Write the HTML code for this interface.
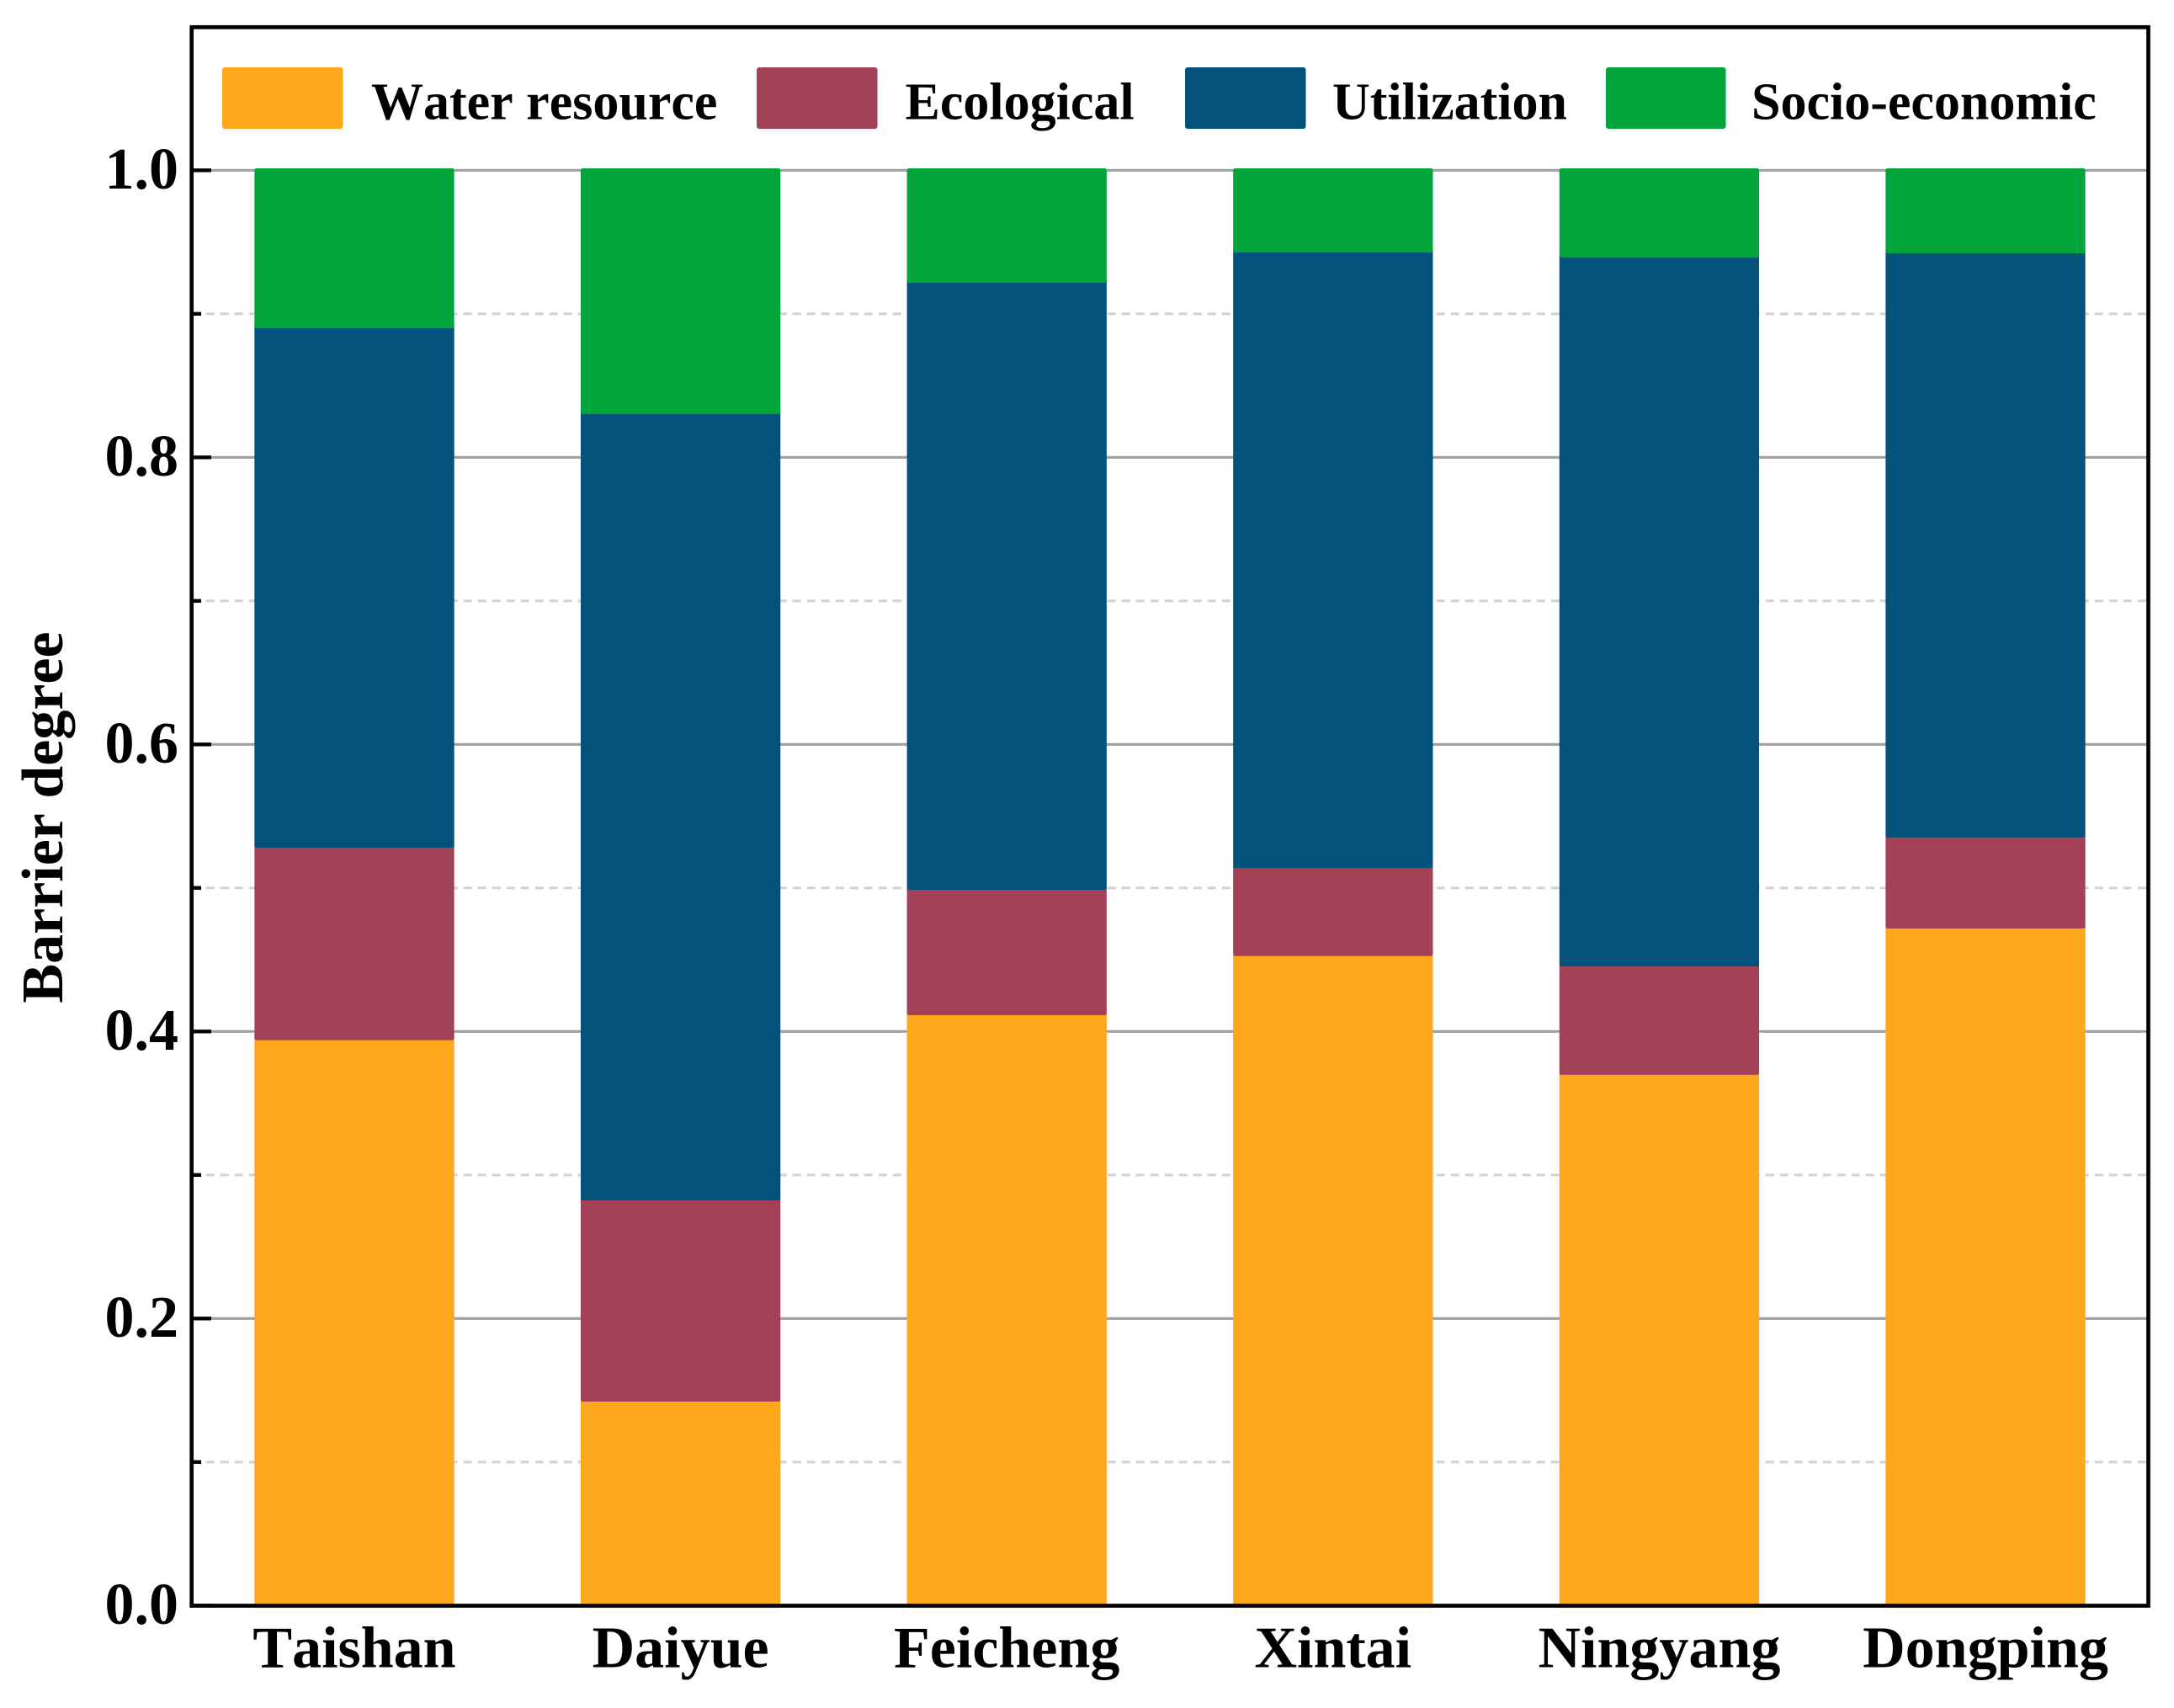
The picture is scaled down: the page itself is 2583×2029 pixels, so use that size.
<!DOCTYPE html>
<html lang="en">
<head>
<meta charset="utf-8">
<title>Barrier degree stacked bar chart</title>
<style>
html,body{margin:0;padding:0;background:#fff;width:2583px;height:2029px;overflow:hidden}
svg{display:block}
text{font-family:"Liberation Serif","Times New Roman",serif;font-weight:700;fill:#000;font-kerning:none}
</style>
</head>
<body>
<svg id="chart" xmlns="http://www.w3.org/2000/svg" width="2583" height="2029" viewBox="0 0 2583 2029">
  <rect x="0" y="0" width="2583" height="2029" fill="#ffffff"/>
  <g id="grid"></g>
  <g id="bars"></g>
  <g id="ticks"></g>
  <rect x="227.7" y="32.3" width="2324.8" height="1875.2" fill="none" stroke="#000" stroke-width="4.7"/>
  <g id="ylabels"></g>
  <g id="xlabels"></g>
  <text x="74" y="971" font-size="70" text-anchor="middle" transform="rotate(-90 74 971)">Barrier degree</text>
  <g id="legend">
    <rect x="264" y="80" width="143.5" height="73" rx="3" fill="#ffa71c"/>
    <text x="441" y="141.7" font-size="62">Water resource</text>
    <rect x="899" y="80" width="143.5" height="73" rx="3" fill="#a34157"/>
    <text x="1075.5" y="141.7" font-size="62">Ecological</text>
    <rect x="1408" y="80" width="143.5" height="73" rx="3" fill="#02527c"/>
    <text x="1583" y="141.7" font-size="62">Utilization</text>
    <rect x="1908" y="80" width="142.5" height="73" rx="3" fill="#02a53b"/>
    <text x="2081" y="141.7" font-size="62">Socio-economic</text>
  </g>
</svg>
<script>
const categories = ["Taishan", "Daiyue", "Feicheng", "Xintai", "Ningyang", "Dongping"];
const waterResource = [0.3953, 0.1435, 0.4127, 0.4539, 0.3711, 0.4731];
const ecological = [0.1341, 0.1402, 0.0874, 0.0614, 0.0756, 0.0634];
const utilization = [0.3619, 0.5478, 0.4229, 0.4288, 0.4939, 0.4070];
const socioEconomic = [0.1087, 0.1685, 0.0770, 0.0559, 0.0594, 0.0565];
const majorTicks = [0, 0.2, 0.4, 0.6, 0.8, 1.0];
const minorTicks = [0.1, 0.3, 0.5, 0.7, 0.9];
const majorTickLabels = ["0.0", "0.2", "0.4", "0.6", "0.8", "1.0"];

const NS = "http://www.w3.org/2000/svg";
const series = [
  { key: "water-resource", values: waterResource, color: "#ffa71c" },
  { key: "ecological", values: ecological, color: "#a34157" },
  { key: "utilization", values: utilization, color: "#02527c" },
  { key: "socio-economic", values: socioEconomic, color: "#02a53b" }
];

function xScale(index) { return 421 + index * 387.6; }
function yScale(value) { return 1907.3 - value * 1705; }
const barWidth = 232.6;
const barStroke = 4.7;
const plotLeft = 227.7;
const plotRight = 2552.5;

function make(tag, attrs, parent) {
  const el = document.createElementNS(NS, tag);
  for (const k in attrs) el.setAttribute(k, attrs[k]);
  parent.appendChild(el);
  return el;
}

const gridGroup = document.getElementById("grid");
const tickGroup = document.getElementById("ticks");
const yLabelGroup = document.getElementById("ylabels");
const xLabelGroup = document.getElementById("xlabels");
const barGroup = document.getElementById("bars");

minorTicks.forEach(function (v) {
  const line = make("line", { x1: plotLeft, x2: plotRight, y1: yScale(v), y2: yScale(v), stroke: "#d3d3d3", "stroke-width": 3.2, "stroke-dasharray": "10 7" }, gridGroup);
  
  
  const tick = make("line", { x1: plotLeft, x2: 239, y1: yScale(v), y2: yScale(v), stroke: "#000", "stroke-width": 4.4 }, tickGroup);
  
  
});

majorTicks.forEach(function (v, i) {
  const line = make("line", { x1: plotLeft, x2: plotRight, y1: yScale(v), y2: yScale(v), stroke: "#a0a0a0", "stroke-width": 3.2 }, gridGroup);
  
  
  const tick = make("line", { x1: plotLeft, x2: 251, y1: yScale(v), y2: yScale(v), stroke: "#000", "stroke-width": 4.4 }, tickGroup);
  
  
  const label = make("text", { x: 212, y: yScale(v) + 21.6, "font-size": 70, "text-anchor": "end" }, yLabelGroup);
  label.textContent = majorTickLabels[i];
  
  
});

categories.forEach(function (name, i) {
  let base = 0;
  series.forEach(function (s) {
    const top = base + s.values[i];
    const rect = make("rect", {
      x: xScale(i) - barWidth / 2,
      y: yScale(top),
      width: barWidth,
      height: yScale(base) - yScale(top),
      fill: s.color,
      stroke: s.color,
      "stroke-width": barStroke,
      "stroke-linejoin": "round"
    }, barGroup);
    
    
    base = top;
  });
  const label = make("text", { x: xScale(i), y: 1980.5, "font-size": 70, "text-anchor": "middle" }, xLabelGroup);
  label.textContent = name;
  
  
});
</script>
</body>
</html>
